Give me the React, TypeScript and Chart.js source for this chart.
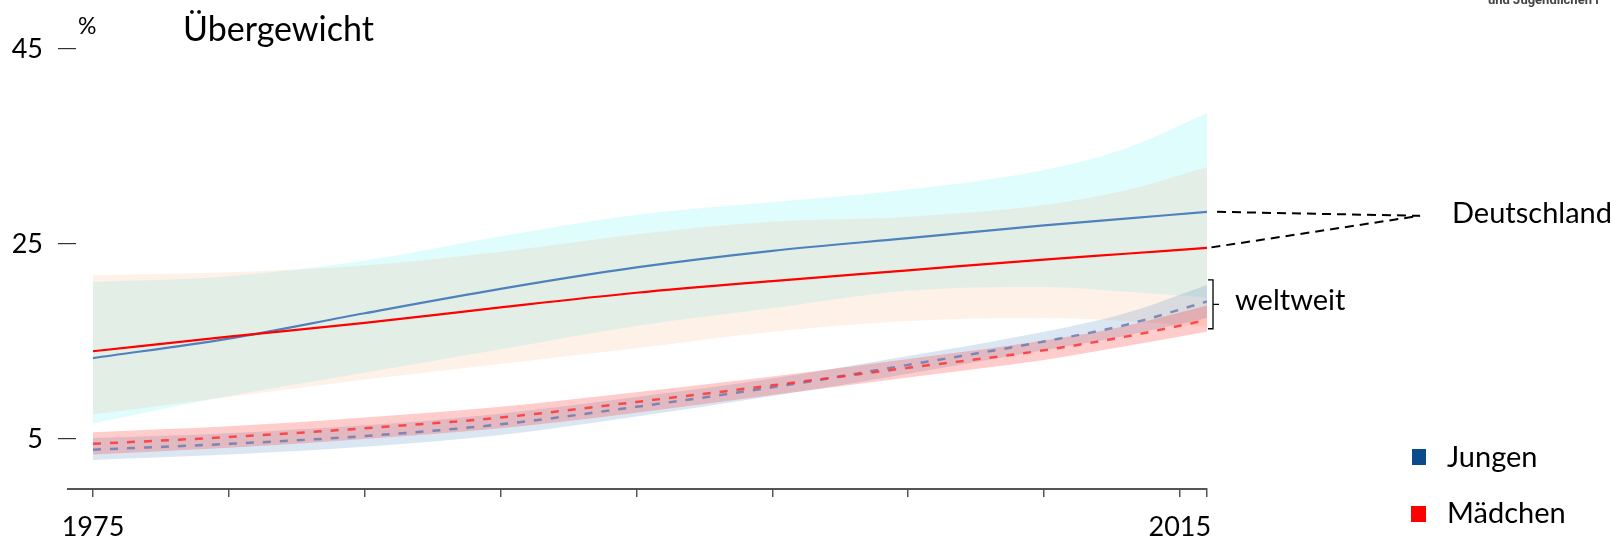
import React, { useEffect, useRef } from "react";
import { Chart, registerables } from "chart.js";

Chart.register(...registerables);

// ---- data (percent) ----
const years = [1975, 1980, 1985, 1990, 1995, 2000, 2005, 2010, 2013, 2016];
const deBoys = [13.3, 15.3, 17.9, 20.4, 22.6, 24.3, 25.6, 26.9, 27.6, 28.3];
const deBoysHi = [21.1, 21.7, 23.3, 25.8, 28.0, 29.3, 30.6, 32.6, 34.8, 38.4];
const deBoysLo = [6.6, 9.4, 11.8, 14.2, 16.6, 18.4, 20.2, 20.6, 20.1, 19.5];
const deGirls = [14.0, 15.5, 16.9, 18.5, 20.0, 21.2, 22.3, 23.4, 24.0, 24.6];
const deGirlsHi = [21.8, 22.1, 22.8, 24.2, 26.0, 27.3, 27.8, 29.0, 30.5, 32.9];
const deGirlsLo = [7.5, 9.3, 11.1, 12.7, 14.3, 16.0, 17.1, 17.4, 17.1, 16.5];
const wBoys = [3.9, 4.5, 5.3, 6.5, 8.3, 10.3, 12.6, 15.0, 16.7, 19.1];
const wBoysHi = [5.1, 5.6, 6.4, 7.6, 9.3, 11.2, 13.5, 16.0, 17.9, 20.8];
const wBoysLo = [2.85, 3.4, 4.2, 5.4, 7.3, 9.4, 11.7, 14.1, 15.6, 17.4];
const wGirls = [4.5, 5.2, 6.1, 7.2, 8.8, 10.5, 12.3, 14.1, 15.5, 17.2];
const wGirlsHi = [5.7, 6.3, 7.2, 8.3, 9.8, 11.4, 13.2, 15.1, 16.6, 18.7];
const wGirlsLo = [3.4, 4.1, 5.0, 6.1, 7.7, 9.5, 11.3, 13.1, 14.5, 16.0];

const xTicks = [1975, 1980, 1985, 1990, 1995, 2000, 2005, 2010, 2015, 2016];
const xLabels = [1975, 2015];
const yTicks = [5, 25, 45];

const FONT = "Lato, 'Open Sans', sans-serif";

const pts = (arr: number[]) => arr.map((v, i) => ({ x: years[i], y: v }));

const band = (hi: number[], lo: number[], color: string, order: number) => [
  {
    data: pts(hi),
    borderWidth: 0,
    pointRadius: 0,
    fill: "+1",
    backgroundColor: color,
    borderColor: "transparent",
    order,
  },
  {
    data: pts(lo),
    borderWidth: 0,
    pointRadius: 0,
    fill: false,
    borderColor: "transparent",
    order,
  },
];

const annotPlugin = {
  id: "annot",
  afterDraw(chart: any) {
    const { ctx, chartArea, scales } = chart;
    const x = scales.x;
    const y = scales.y;
    ctx.save();
    // axis stub to the left
    ctx.strokeStyle = "#555";
    ctx.lineWidth = 2;
    ctx.beginPath();
    ctx.moveTo(67, Math.round(chartArea.bottom));
    ctx.lineTo(chartArea.left, Math.round(chartArea.bottom));
    ctx.stroke();

    const xEnd = x.getPixelForValue(years[years.length - 1]);
    const yB = y.getPixelForValue(deBoys[deBoys.length - 1]);
    const yG = y.getPixelForValue(deGirls[deGirls.length - 1]);
    const tipX = xEnd + 213;
    const tipY = yB + 4;

    ctx.strokeStyle = "#000";
    ctx.lineWidth = 2;
    ctx.setLineDash([9, 6]);
    ctx.beginPath();
    ctx.moveTo(xEnd + 10, yB);
    ctx.lineTo(tipX, tipY);
    ctx.lineTo(xEnd + 1, yG);
    ctx.stroke();
    ctx.setLineDash([]);

    // bracket for weltweit
    const bx = xEnd + 6;
    const bTop = y.getPixelForValue(wBoysHi[wBoysHi.length - 1]) - 5;
    const bBot = y.getPixelForValue(wGirlsLo[wGirlsLo.length - 1]) - 3;
    const bMid = (bTop + bBot) / 2;
    ctx.lineWidth = 1.3;
    ctx.beginPath();
    ctx.moveTo(bx - 5, bTop);
    ctx.lineTo(bx, bTop);
    ctx.lineTo(bx, bBot);
    ctx.lineTo(bx - 5, bBot);
    ctx.moveTo(bx, bMid);
    ctx.lineTo(bx + 6, bMid);
    ctx.stroke();

    ctx.fillStyle = "#000";
    ctx.textBaseline = "alphabetic";
    ctx.textAlign = "left";
    ctx.font = `29px ${FONT}`;
    ctx.fillText("Deutschland", 1452, 223);
    ctx.fillText("weltweit", 1235, 310);

    // title
    ctx.font = `23px ${FONT}`;
    ctx.fillText("%", 78, 34);
    ctx.font = `34px ${FONT}`;
    ctx.fillText("Übergewicht", 183, 41);

    // legend
    ctx.fillStyle = "#0B4A8B";
    ctx.fillRect(1412, 449, 14, 16);
    ctx.fillStyle = "#FF0000";
    ctx.fillRect(1411, 506, 15, 16);
    ctx.fillStyle = "#000";
    ctx.font = `29px ${FONT}`;
    ctx.fillText("Jungen", 1447, 467);
    ctx.fillText("Mädchen", 1447, 523);

    // cut-off header text at top right
    ctx.fillStyle = "#444";
    ctx.font = `bold 13px Roboto, sans-serif`;
    ctx.fillText("und Jugendlichen i", 1488, 4);
    ctx.restore();
  },
};

export default function App() {
  const ref = useRef<HTMLCanvasElement | null>(null);

  useEffect(() => {
    if (!ref.current) return;
    const datasets: any[] = [
      ...band(deBoysHi, deBoysLo, "rgba(0,235,235,0.12)", 20),
      ...band(deGirlsHi, deGirlsLo, "rgba(245,150,80,0.13)", 18),
      ...band(wBoysHi, wBoysLo, "rgba(70,130,185,0.2)", 16),
      ...band(wGirlsHi, wGirlsLo, "rgba(255,0,0,0.2)", 14),
      {
        data: pts(wBoys),
        borderColor: "rgba(100,120,175,0.8)",
        borderWidth: 2.5,
        borderDash: [8, 9],
        pointRadius: 0,
        fill: false,
        order: 4,
      },
      {
        data: pts(wGirls),
        borderColor: "rgba(255,50,50,0.85)",
        borderWidth: 2.5,
        borderDash: [8, 9],
        pointRadius: 0,
        fill: false,
        order: 3,
      },
      {
        data: pts(deBoys),
        borderColor: "#4F81BD",
        borderWidth: 2.2,
        pointRadius: 0,
        fill: false,
        order: 2,
      },
      {
        data: pts(deGirls),
        borderColor: "#FF0000",
        borderWidth: 2.2,
        pointRadius: 0,
        fill: false,
        order: 1,
      },
    ];

    const chart = new Chart(ref.current, {
      type: "line",
      data: { datasets },
      options: {
        responsive: false,
        animation: false,
        layout: { padding: { left: 0, top: 49, right: 1614 - 1207, bottom: 0 } },
        elements: { line: { cubicInterpolationMode: "monotone" }, point: { radius: 0 } },
        plugins: {
          legend: { display: false },
          tooltip: { enabled: false },
          filler: { propagate: false },
        },
        scales: {
          x: {
            type: "linear",
            min: 1975 - 17 / 27.17,
            max: 2016,
            afterBuildTicks: (s: any) => {
              s.ticks = xTicks.map((v) => ({ value: v }));
            },
            afterFit: (s: any) => {
              s.height = 49;
            },
            ticks: {
              autoSkip: false,
              maxRotation: 0,
              padding: 14,
              color: "#000",
              font: { family: FONT, size: 27 },
              callback: (v: any) => (xLabels.includes(Number(v)) ? String(v) : ""),
            },
            grid: {
              drawOnChartArea: false,
              drawTicks: true,
              tickLength: 8,
              color: "#555",
              lineWidth: 1.5,
            },
            border: { display: true, color: "#555", width: 2 },
          },
          y: {
            type: "linear",
            min: -0.13,
            max: 45,
            afterBuildTicks: (s: any) => {
              s.ticks = yTicks.map((v) => ({ value: v }));
            },
            afterFit: (s: any) => {
              s.width = 76;
            },
            ticks: {
              padding: 15,
              color: "#000",
              font: { family: FONT, size: 27 },
            },
            grid: {
              drawOnChartArea: false,
              drawTicks: true,
              tickLength: 18,
              color: "#333",
              lineWidth: 1.2,
            },
            border: { display: false },
          },
        },
      },
      plugins: [annotPlugin],
    } as any);
    return () => chart.destroy();
  }, []);

  return (
    <div style={{ position: "fixed", left: 0, top: 0, width: 1614, height: 538, background: "#fff" }}>
      <canvas ref={ref} width={1614} height={538} style={{ display: "block" }} />
    </div>
  );
}
